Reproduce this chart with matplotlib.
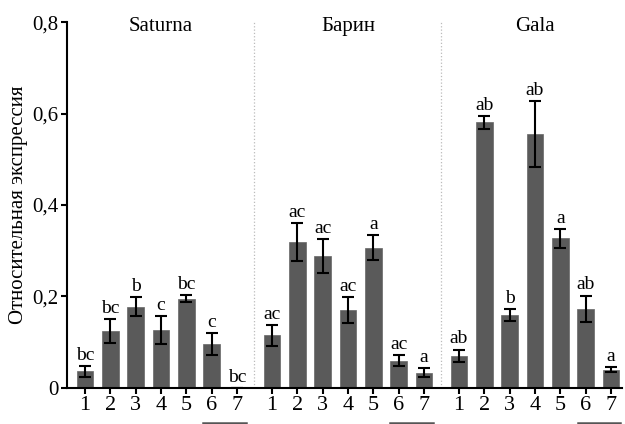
#!/usr/bin/env python3
"""Relative expression across three cultivars, bars with SE and letter groups."""

import numpy as np
import matplotlib
matplotlib.use("Agg")
import matplotlib.pyplot as plt

cultivars = ["Saturna", "Барин", "Gala"]
samples = ["1", "2", "3", "4", "5", "6", "7"]

saturna = [0.036, 0.125, 0.178, 0.127, 0.195, 0.096, 0.0]
saturna_err = [0.012, 0.026, 0.020, 0.031, 0.008, 0.024, 0.0]
saturna_lbl = ["bc", "bc", "b", "c", "bc", "c", "bc"]

barin = [0.115, 0.319, 0.289, 0.170, 0.307, 0.059, 0.033]
barin_err = [0.023, 0.042, 0.037, 0.029, 0.027, 0.012, 0.010]
barin_lbl = ["ac", "ac", "ac", "ac", "a", "ac", "a"]

gala = [0.070, 0.581, 0.159, 0.556, 0.327, 0.173, 0.040]
gala_err = [0.014, 0.014, 0.013, 0.072, 0.020, 0.029, 0.005]
gala_lbl = ["ab", "ab", "b", "ab", "a", "ab", "a"]

ylabel = "Относительная экспрессия"

plt.rcParams["font.family"] = ["Liberation Serif", "DejaVu Serif"]

fig = plt.figure(figsize=(6.25, 4.24), dpi=100)
ax = fig.add_axes([0.107, 0.085, 0.888, 0.863])

step = 7.38
groups = [(saturna, saturna_err, saturna_lbl),
          (barin, barin_err, barin_lbl),
          (gala, gala_err, gala_lbl)]
all_x, all_lbl = [], []
for g, (vals, errs, lbls) in enumerate(groups):
    x = np.arange(len(vals)) + g * step
    ax.bar(x, vals, 0.66, color="#5a5a5a", edgecolor="#666666", lw=0.5, zorder=2)
    ax.errorbar(x, vals, yerr=errs, fmt="none", ecolor="black", elinewidth=1.5,
                capsize=4, capthick=1.5, zorder=3)
    for xi, v, e, t in zip(x, vals, errs, lbls):
        ax.annotate(t, xy=(xi, v + e), xytext=(0, 1.5), textcoords="offset points",
                    ha="center", va="bottom", fontsize=14)
    ax.text(x.mean(), 0.79, cultivars[g], ha="center", va="center", fontsize=15)
    # underline below samples 6-7
    ax.plot([x[5] - 0.32, x[6] + 0.35], [-0.095, -0.095], color="#555555", lw=1.8,
            transform=ax.get_xaxis_transform(), clip_on=False)
    if g < 2:
        ax.axvline((x[-1] + x[-1] + step - 6) / 2, color="#bbbbbb", ls=":", lw=0.9)
    all_x.extend(x)
    all_lbl.extend(samples)

ax.set_xticks(all_x)
ax.set_xticklabels(all_lbl, fontsize=16)
ax.set_xlim(-0.71, 21.19)
ax.set_ylim(0, 0.8)
ax.set_yticks([0, 0.2, 0.4, 0.6, 0.8])
ax.set_yticklabels(["0", "0,2", "0,4", "0,6", "0,8"], fontsize=15)
ax.set_ylabel(ylabel, fontsize=15, labelpad=3)
for s in ("top", "right"):
    ax.spines[s].set_visible(False)
for s in ("left", "bottom"):
    ax.spines[s].set_linewidth(1.5)
ax.tick_params(axis="both", width=1.5, length=4, pad=2)

fig.savefig("out.png", dpi=100)
plt.close(fig)
